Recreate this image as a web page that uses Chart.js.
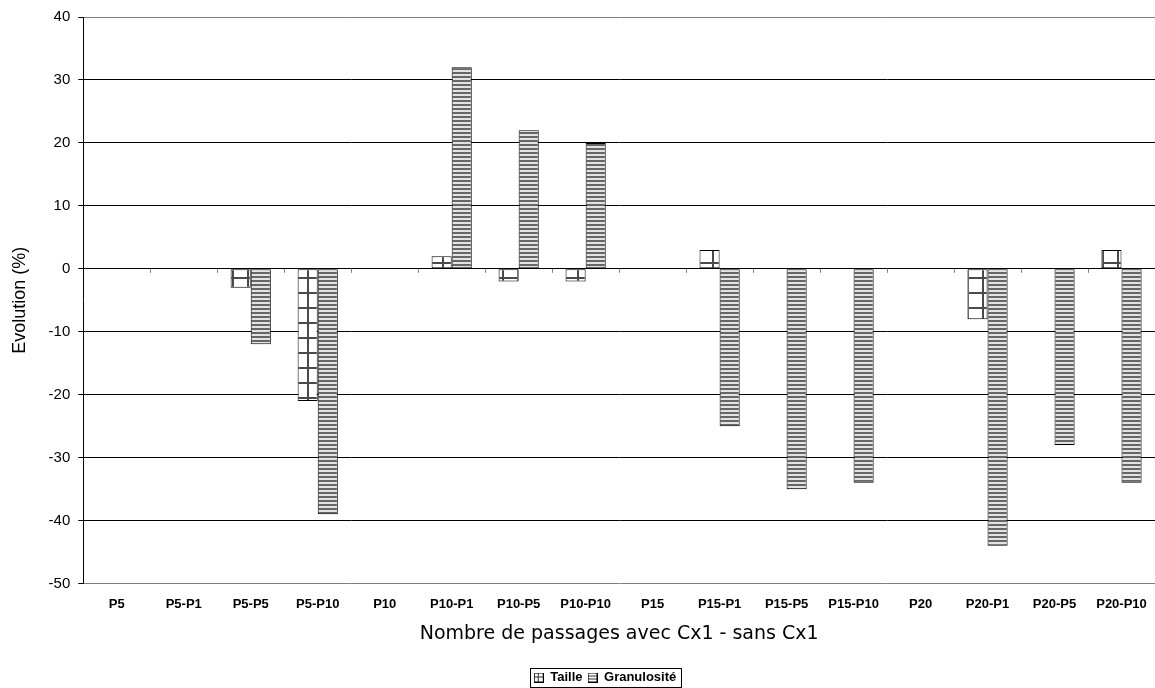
<!DOCTYPE html>
<html>
<head>
<meta charset="utf-8">
<script src="https://cdn.jsdelivr.net/npm/chart.js@4.4.1/dist/chart.umd.min.js"></script>
<style>
  html, body { margin: 0; padding: 0; background: #fff; }
  #wrap { width: 1155px; height: 688px; position: relative; overflow: hidden; }
</style>
</head>
<body>
<div id="wrap"><canvas id="chart" width="1155" height="694"></canvas></div>
<script>
const categories = ['P5', 'P5-P1', 'P5-P5', 'P5-P10', 'P10', 'P10-P1', 'P10-P5', 'P10-P10',
                    'P15', 'P15-P1', 'P15-P5', 'P15-P10', 'P20', 'P20-P1', 'P20-P5', 'P20-P10'];
const taille      = [0, 0, -3, -21, 0, 2, -2, -2, 0, 3, 0, 0, 0, -8, 0, 3];
const granulosite = [0, 0, -12, -39, 0, 32, 22, 20, 0, -25, -35, -34, 0, -44, -28, -34];
const yMin = -50, yMax = 40, yStep = 10;

// motifs de remplissage (style Excel)
function gridPattern() {
    const c = document.createElement('canvas');
    c.width = 15; c.height = 15;
    const g = c.getContext('2d');
    g.fillStyle = '#ffffff';
    g.fillRect(0, 0, 15, 15);
    g.fillStyle = '#4a4a4a';
    g.fillRect(7, 0, 2, 15);
    g.fillRect(0, 7, 15, 2);
    return g.createPattern(c, 'repeat');
}

function stripePattern() {
    const c = document.createElement('canvas');
    c.width = 4; c.height = 4;
    const g = c.getContext('2d');
    g.fillStyle = '#e2e2e2';
    g.fillRect(0, 0, 4, 4);
    g.fillStyle = '#666666';
    g.fillRect(0, 0, 4, 2);
    return g.createPattern(c, 'repeat');
}

// petites icônes de légende (⊞ et ⊟)
function legendIcon(kind) {
    const c = document.createElement('canvas');
    c.width = 10; c.height = 10;
    const g = c.getContext('2d');
    g.fillStyle = '#fff';
    g.fillRect(0, 0, 10, 10);
    g.fillStyle = '#333';
    if (kind === 'grid') {
        g.fillRect(4, 0, 1, 10);
        g.fillRect(0, 4, 10, 1);
    } else {
        g.fillRect(0, 3, 10, 1);
        g.fillRect(0, 6, 10, 1);
    }
    g.strokeStyle = '#000';
    g.lineWidth = 1;
    g.strokeRect(0.5, 0.5, 9, 9);
    return c;
}
const legendIcons = [legendIcon('grid'), legendIcon('stripes')];

// petits traits sous la ligne du zéro
const zeroTicks = {
    id: 'zeroTicks',
    afterDatasetsDraw(chart) {
        const { ctx, chartArea, scales } = chart;
        const y0 = scales.y.getPixelForValue(0);
        const w = chartArea.width / categories.length;
        ctx.save();
        ctx.strokeStyle = '#808080';
        ctx.lineWidth = 1;
        for (let i = 1; i < categories.length; i++) {
            const x = Math.round(chartArea.left + i * w) + 0.5;
            ctx.beginPath();
            ctx.moveTo(x, y0);
            ctx.lineTo(x, y0 + 4);
            ctx.stroke();
        }
        ctx.restore();
    }
};

// légende décalée un peu vers la droite, comme dans Excel
const legendShift = {
    id: 'legendShift',
    afterLayout(chart) {
        chart.legend.left += 23;
        chart.legend.right += 23;
    }
};

// cadre autour de la légende
const legendBox = {
    id: 'legendBox',
    afterDraw(chart) {
        const boxes = chart.legend.legendHitBoxes;
        if (!boxes || !boxes.length) return;
        const l = Math.min(...boxes.map(b => b.left)) - 4;
        const r = Math.max(...boxes.map(b => b.left + b.width)) + 4;
        const t = Math.min(...boxes.map(b => b.top)) - 3;
        const btm = Math.max(...boxes.map(b => b.top + b.height)) + 3;
        const ctx = chart.ctx;
        ctx.save();
        ctx.strokeStyle = '#000';
        ctx.lineWidth = 1;
        ctx.strokeRect(Math.round(l) + 0.5, Math.round(t) + 0.5, Math.round(r - l), Math.round(btm - t));
        ctx.restore();
    }
};

new Chart(document.getElementById('chart'), {
    type: 'bar',
    data: {
        labels: categories,
        datasets: [
            { label: 'Taille', data: taille, backgroundColor: gridPattern(), borderColor: '#000', borderWidth: 1, borderSkipped: false },
            { label: 'Granulosité', data: granulosite, backgroundColor: stripePattern(), borderColor: '#000', borderWidth: 1, borderSkipped: false }
        ]
    },
    options: {
        responsive: false,
        animation: false,
        categoryPercentage: 0.6,
        barPercentage: 1.0,
        layout: { padding: { top: 6.5, right: 0, left: 9, bottom: 0 } },
        plugins: {
            tooltip: { enabled: false },
            legend: {
                position: 'bottom',
                labels: {
                    color: '#000',
                    font: { family: 'Liberation Sans, Arial, sans-serif', size: 13, weight: 'bold' },
                    boxWidth: 10, boxHeight: 10, padding: 5,
                    usePointStyle: true,
                    generateLabels(chart) {
                        const items = Chart.defaults.plugins.legend.labels.generateLabels(chart);
                        items.forEach((it, i) => { it.pointStyle = legendIcons[i]; });
                        return items;
                    }
                }
            }
        },
        scales: {
            x: {
                grid: { display: false },
                border: { display: false },
                ticks: {
                    color: '#000',
                    font: { family: 'Liberation Sans, Arial, sans-serif', size: 13, weight: 'bold' },
                    padding: 5,
                    maxRotation: 0,
                    autoSkip: false
                },
                title: {
                    display: true,
                    text: 'Nombre de passages avec Cx1 - sans Cx1',
                    color: '#000',
                    font: { family: 'DejaVu Sans, Verdana, sans-serif', size: 19 },
                    padding: { top: 5, bottom: 21 }
                }
            },
            y: {
                min: yMin,
                max: yMax,
                border: { color: '#000', width: 1 },
                grid: {
                    color: ctx => (ctx.tick && (ctx.tick.value === yMax || ctx.tick.value === yMin)) ? '#808080' : '#000',
                    lineWidth: 1,
                    tickLength: 5,
                    tickColor: '#000'
                },
                ticks: {
                    stepSize: yStep,
                    color: '#000',
                    font: { family: 'Liberation Sans, Arial, sans-serif', size: 15 },
                    padding: 8
                },
                title: {
                    display: true,
                    text: 'Evolution (%)',
                    color: '#000',
                    font: { family: 'Liberation Sans, Arial, sans-serif', size: 18 },
                    padding: { top: 0, bottom: 10 }
                }
            }
        }
    },
    plugins: [zeroTicks, legendShift, legendBox]
});
</script>
</body>
</html>
